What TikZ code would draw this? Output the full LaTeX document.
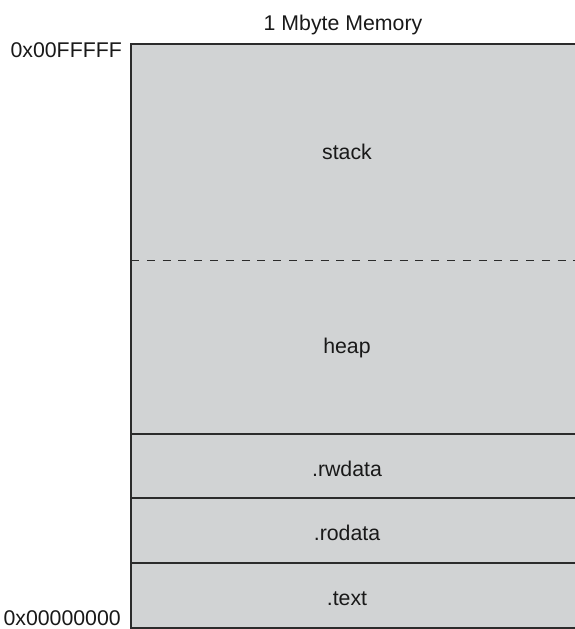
\documentclass[tikz,border=0pt]{standalone}
\usepackage{fontspec}
\setmainfont{Liberation Sans}
\definecolor{memfill}{HTML}{D1D3D4}
\definecolor{memline}{HTML}{2B2B2B}
\begin{document}
\begin{tikzpicture}[x=1pt,y=1pt,
  lbl/.style={font=\fontsize{21.3}{25}\selectfont, text=black!90, inner sep=0pt},
  sep/.style={draw=memline, line width=1.6pt},
  dsep/.style={draw=memline, line width=1.4pt, dash pattern=on 8pt off 7.8pt}]
\useasboundingbox (0,0) rectangle (575,629);
\clip (0,0) rectangle (575,629);
% memory block
\draw[fill=memfill, draw=memline, line width=1.6pt] (131,1) rectangle (590,585);
\coordinate (dl) at (131,368.3);
\coordinate (dr) at (590,368.3);
\draw[dsep] (dl) -- (dr);
\coordinate (s1l) at (131,195);
\coordinate (s1r) at (590,195);
\coordinate (s2l) at (131,130.7);
\coordinate (s2r) at (590,130.7);
\coordinate (s3l) at (131,65.7);
\coordinate (s3r) at (590,65.7);
\draw[sep] (s1l) -- (s1r);
\draw[sep] (s2l) -- (s2r);
\draw[sep] (s3l) -- (s3r);
% labels
\node[lbl, anchor=base] (title) at (343,598) {1 Mbyte Memory};
\node[lbl, anchor=base east] (top) at (122,571) {0x00FFFFF};
\node[lbl, anchor=base east] (bot) at (121,4) {0x00000000};
\node[lbl, anchor=base] (stack) at (347,469.5) {stack};
\node[lbl, anchor=base] (heap) at (347,275.7) {heap};
\node[lbl, anchor=base] (rw) at (347,152.3) {.rwdata};
\node[lbl, anchor=base] (ro) at (347,88.3) {.rodata};
\node[lbl, anchor=base] (tx) at (347,23.3) {.text};
\end{tikzpicture}
\end{document}
